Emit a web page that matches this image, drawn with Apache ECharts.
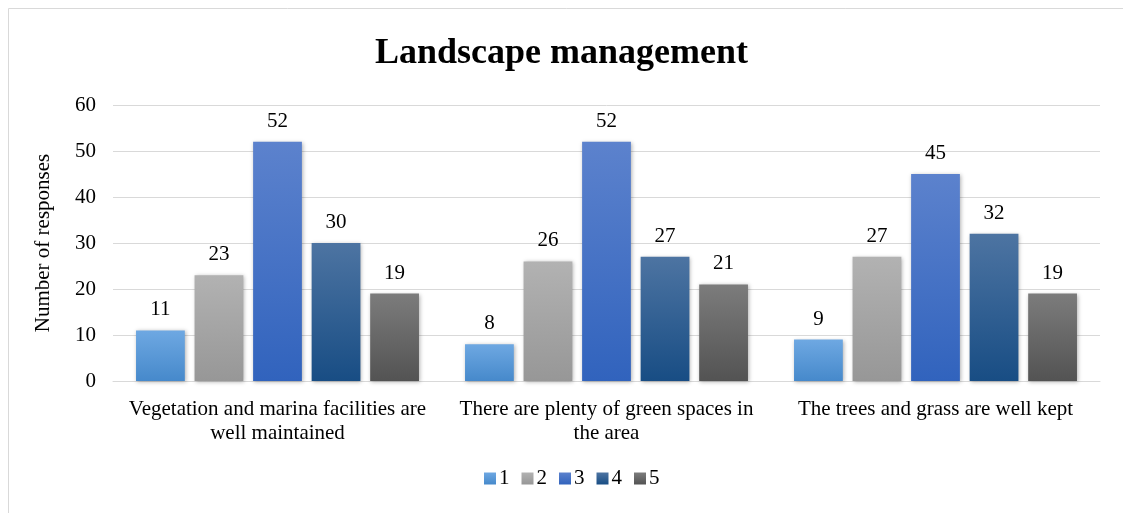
<!DOCTYPE html>
<html>
<head>
<meta charset="utf-8">
<script src="https://cdn.jsdelivr.net/npm/echarts@6/dist/echarts.min.js"></script>
<style>
  html, body { margin: 0; padding: 0; background: #fff; }
  #chart { width: 1123px; height: 513px; }
</style>
</head>
<body>
<div id="chart"></div>
<script>
const categories = [
  'Vegetation and marina facilities are\nwell maintained',
  'There are plenty of green spaces in\nthe area',
  'The trees and grass are well kept'
]
const seriesNames = ['1', '2', '3', '4', '5']
const values1 = [11, 8, 9]
const values2 = [23, 26, 27]
const values3 = [52, 52, 45]
const values4 = [30, 27, 32]
const values5 = [19, 21, 19]
const allValues = [values1, values2, values3, values4, values5]

const gradients = [
  ['#6ea8e2', '#4689cb'],
  ['#b2b2b2', '#979797'],
  ['#5c82cd', '#3163bd'],
  ['#4d74a2', '#184d84'],
  ['#7c7c7c', '#535353']
]
const legendColors = ['#5b9bd5', '#a5a5a5', '#4472c4', '#255e91', '#636363']

const serif = '"Liberation Serif", "Times New Roman", serif'

const chart = echarts.init(document.getElementById('chart'))

const series = allValues.map((vals, i) => ({
  name: seriesNames[i],
  type: 'bar',
  data: vals,
  barGap: '20%',
  barCategoryGap: '14%',
  itemStyle: {
    color: new echarts.graphic.LinearGradient(0, 0, 0, 1, [
      { offset: 0, color: gradients[i][0] },
      { offset: 1, color: gradients[i][1] }
    ]),
    shadowBlur: 4,
    shadowColor: 'rgba(0,0,0,0.3)',
    shadowOffsetX: 1,
    shadowOffsetY: 1
  },
  label: {
    show: true,
    position: 'top',
    distance: 10,
    color: '#000',
    fontFamily: serif,
    fontSize: 21
  }
}))

const option = {
  animation: false,
  color: legendColors,
  title: {
    text: 'Landscape management',
    left: 'center',
    top: 31,
    textStyle: {
      fontFamily: serif,
      fontSize: 36,
      fontWeight: 'bold',
      color: '#000'
    }
  },
  graphic: [{
    type: 'rect',
    shape: { x: 8.5, y: 8.5, width: 1130, height: 520 },
    style: { fill: 'none', stroke: '#d9d9d9', lineWidth: 1 },
    silent: true
  }],
  legend: {
    bottom: 19,
    left: 479,
    itemWidth: 12,
    itemHeight: 12,
    itemGap: 12,
    icon: 'rect',
    textStyle: { fontFamily: serif, fontSize: 21, color: '#000', padding: [0, 0, 0, -2] },
    data: seriesNames
  },
  grid: {
    left: 113,
    right: 23,
    top: 105,
    bottom: 132
  },
  xAxis: {
    type: 'category',
    data: categories,
    axisLine: { lineStyle: { color: '#d9d9d9', width: 1 } },
    axisTick: { show: false },
    axisLabel: {
      interval: 0,
      margin: 16,
      fontFamily: serif,
      fontSize: 21,
      lineHeight: 24,
      color: '#000'
    }
  },
  yAxis: {
    type: 'value',
    min: 0,
    max: 60,
    interval: 10,
    name: 'Number of responses',
    nameLocation: 'middle',
    nameGap: 59,
    nameRotate: 90,
    nameTextStyle: { fontFamily: serif, fontSize: 21, color: '#000' },
    axisLine: { show: false },
    axisTick: { show: false },
    axisLabel: {
      margin: 17,
      fontFamily: serif,
      fontSize: 21,
      color: '#000'
    },
    splitLine: { lineStyle: { color: '#d9d9d9', width: 1 } }
  },
  series
}

chart.setOption(option)
</script>
</body>
</html>
